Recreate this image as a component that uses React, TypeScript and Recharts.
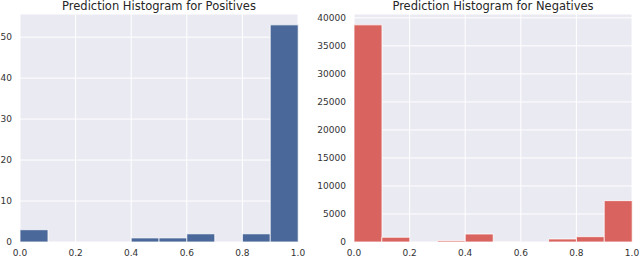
import { BarChart, Bar, XAxis, YAxis, CartesianGrid } from 'recharts';

// histogram bins (left edges), 10 equal bins over [0, 1]
const binStarts = [0.0, 0.1, 0.2, 0.3, 0.4, 0.5, 0.6, 0.7, 0.8, 0.9];
const posCounts = [3, 0, 0, 0, 1, 1, 2, 0, 2, 53];
const negCounts = [38750, 850, 0, 230, 1430, 30, 0, 540, 950, 7380];

const xTicks = [0, 0.2, 0.4, 0.6, 0.8, 1.0];
const posTicks = [0, 10, 20, 30, 40, 50];
const negTicks = [0, 5000, 10000, 15000, 20000, 25000, 30000, 35000, 40000];

const posTitle = 'Prediction Histogram for Positives';
const negTitle = 'Prediction Histogram for Negatives';

const FONT = '"DejaVu Sans", sans-serif';
const BG = '#eaeaf2';
const tickStyle = { fontSize: 9, fill: '#333333', fontFamily: FONT };

type PanelProps = {
    counts: number[];
    yTicks: number[];
    color: string;
    width: number;
    yWidth: number;
    rightMargin: number;
};

function HistPanel({ counts, yTicks, color, width, yWidth, rightMargin }: PanelProps) {
    const data = binStarts.map((b, i) => ({ bin: b.toFixed(1), mid: b + 0.05, count: counts[i] }));
    const yMax = Math.max(...counts) * 1.05;

    return (
        <BarChart
            width={width}
            height={258}
            data={data}
            margin={{ top: 14, right: rightMargin, bottom: 0, left: 0 }}
            barCategoryGap={0}
            barGap={0}
        >
            <CartesianGrid xAxisId="num" fill={BG} stroke="#ffffff" strokeWidth={1} />
            <XAxis xAxisId="bins" dataKey="bin" hide orientation="top" padding={{ left: 0, right: 0 }} />
            <XAxis
                xAxisId="num"
                dataKey="mid"
                type="number"
                domain={[0, 1]}
                ticks={xTicks}
                allowDataOverflow
                tickFormatter={(v: number) => v.toFixed(1)}
                axisLine={false}
                tickLine={false}
                tickSize={6}
                tickMargin={2}
                height={16}
                tick={tickStyle}
                interval={0}
            />
            <YAxis
                type="number"
                domain={[0, yMax]}
                ticks={yTicks}
                allowDataOverflow
                axisLine={false}
                tickLine={false}
                width={yWidth}
                tick={tickStyle}
                interval={0}
            />
            <Bar
                xAxisId="bins"
                dataKey="count"
                fill={color}
                stroke="#ffffff"
                strokeWidth={0.8}
                isAnimationActive={false}
            />
        </BarChart>
    );
}

const titleStyle = (center: number): React.CSSProperties => ({
    position: 'absolute',
    top: 1,
    left: center - 150,
    width: 300,
    textAlign: 'center',
    fontFamily: FONT,
    fontSize: 11.5,
    lineHeight: 1,
    color: '#262626',
    whiteSpace: 'nowrap',
});

export default function App() {
    return (
        <div style={{ position: 'absolute', left: 0, top: 0, width: 640, height: 258, background: '#ffffff', overflow: 'hidden' }}>
            <div style={{ position: 'absolute', left: 0, top: 0 }}>
                <HistPanel counts={posCounts} yTicks={posTicks} color="#4a6899" width={320} yWidth={20} rightMargin={22} />
            </div>
            <div style={{ position: 'absolute', left: 300, top: 0 }}>
                <HistPanel counts={negCounts} yTicks={negTicks} color="#d9635f" width={340} yWidth={54} rightMargin={8} />
            </div>
            <div style={titleStyle(159)}>{posTitle}</div>
            <div style={titleStyle(493)}>{negTitle}</div>
        </div>
    );
}
